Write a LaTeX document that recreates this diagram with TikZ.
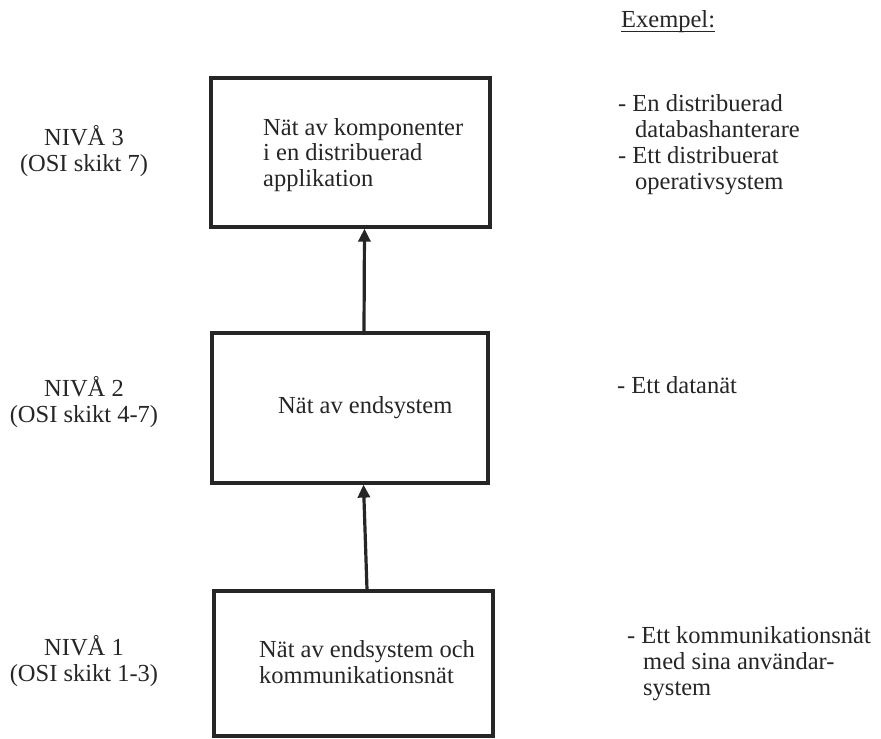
\documentclass[tikz,border=0pt]{standalone}
\usepackage{fontspec}
\setmainfont{Liberation Serif}
\usetikzlibrary{arrows.meta}
\definecolor{ink}{HTML}{262626}
\begin{document}
\begin{tikzpicture}[x=1pt,y=-1pt,
  lvlbox/.style={draw=ink, line width=3.2pt, minimum width=#1, inner sep=0pt},
  txt/.style={font=\fontsize{24.5}{25.5}\selectfont, text=ink, inner sep=0pt},
  side/.style={txt, font=\fontsize{24.5}{26}\selectfont},
  uparrow/.style={draw=ink, line width=3.2pt, -{Triangle[length=13pt,width=12pt]}}]
% page frame
\fill[white] (0,0) rectangle (881,739);
\useasboundingbox (0,0) rectangle (881,739);

% the three level boxes
\node[lvlbox=279pt, minimum height=149pt] (box3) at (350.5,152.5) {};
\node[lvlbox=276pt, minimum height=150pt] (box2) at (350,408) {};
\node[lvlbox=279pt, minimum height=145pt] (box1) at (353.5,663.5) {};

% box contents (multi-line nodes sit on the baseline of their last line)
\node[txt, align=left, anchor=base west] (t3) at (263,186)
  {Nät av komponenter\\i en distribuerad\\applikation};
\node[txt, anchor=base west] (t2) at (278,413) {Nät av endsystem};
\node[txt, align=left, anchor=base west] (t1) at (259,683)
  {Nät av endsystem och\\kommunikationsnät};

% arrows between levels
\draw[uparrow] ([xshift=14pt]box2.north) -- ([xshift=14pt]box3.south);
\draw[uparrow] ([xshift=13.5pt]box1.north) -- ([xshift=13.5pt]box2.south);

% level labels
\node[txt, align=center, anchor=base] (l3) at (84,171) {NIVÅ 3\\(OSI skikt 7)};
\node[txt, align=center, anchor=base] (l2) at (84,422) {NIVÅ 2\\(OSI skikt 4-7)};
\node[txt, align=center, anchor=base] (l1) at (84,681) {NIVÅ 1\\(OSI skikt 1-3)};

% examples column
\node[side, anchor=base west] (ex) at (621,27) {Exempel:};
\draw[ink, line width=1pt] ([yshift=-4pt]ex.base west) -- ([yshift=-4pt]ex.base east);

\node[side, align=left, anchor=base west] (e3) at (618,189)
  {- En distribuerad\\\hspace*{17pt}databashanterare\\- Ett distribuerat\\\hspace*{17pt}operativsystem};
\node[side, anchor=base west] (e2) at (617,393) {- Ett datanät};
\node[side, align=left, anchor=base west] (e1) at (627,695)
  {- Ett kommunikationsnät\\\hspace*{16pt}med sina användar-\\\hspace*{16pt}system};
\end{tikzpicture}
\end{document}
